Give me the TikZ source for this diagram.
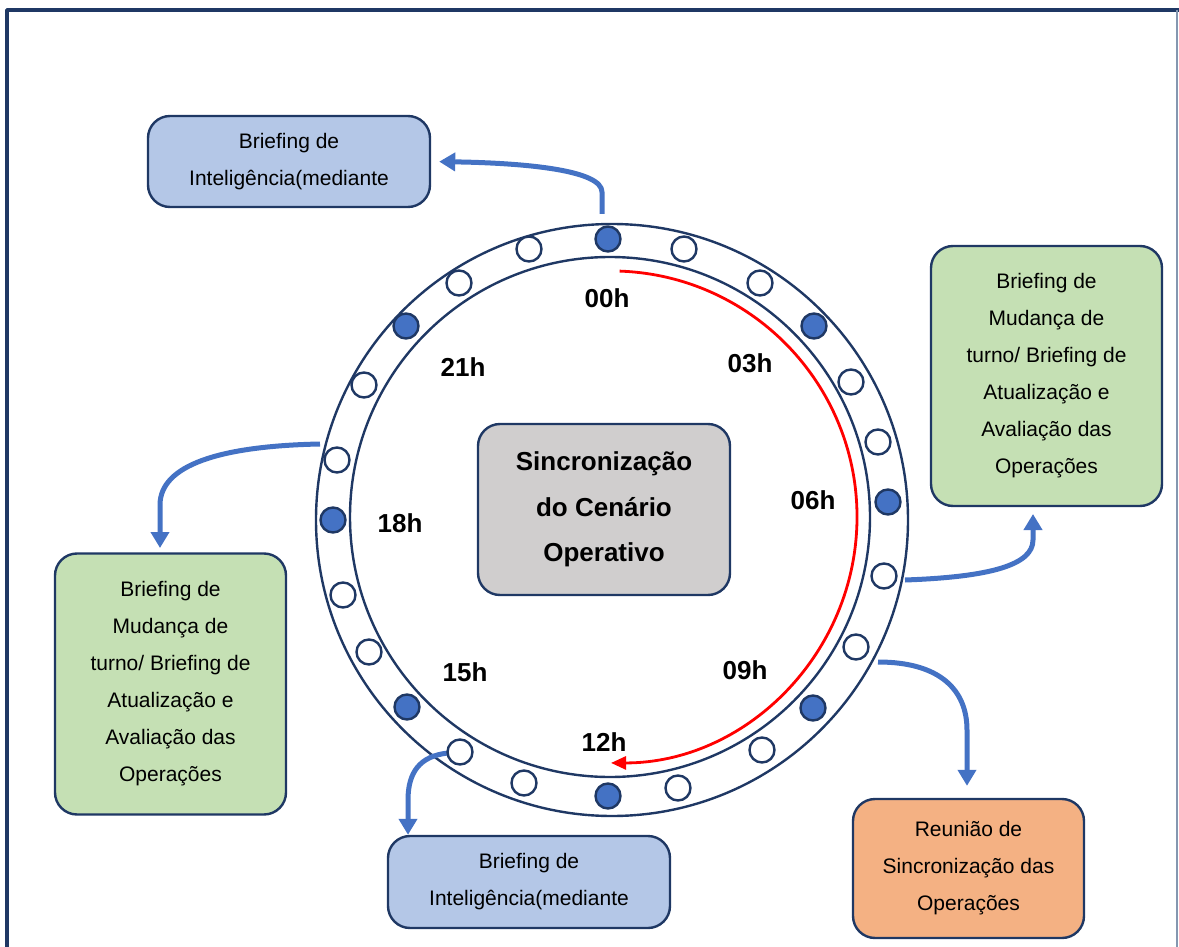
\documentclass[tikz,border=0pt]{standalone}
\usepackage{fontspec}
\setmainfont{Liberation Sans}
\usetikzlibrary{arrows.meta}
\usetikzlibrary{shapes}

\definecolor{navy}{HTML}{1F3864}
\definecolor{edgegray}{HTML}{8497B0}
\definecolor{flowblue}{HTML}{4472C4}
\definecolor{boxblue}{HTML}{B4C7E7}
\definecolor{boxgreen}{HTML}{C5E0B4}
\definecolor{boxorange}{HTML}{F4B183}
\definecolor{boxgray}{HTML}{D0CECE}

\begin{document}
\begin{tikzpicture}[x=0.5pt,y=-0.5pt,line join=bevel,
  box/.style={draw=navy,line width=1.2pt,rounded corners=11pt,align=center,inner sep=0pt,
    font=\fontsize{10.5}{18.5}\selectfont},
  hour/.style={font=\fontsize{13}{15}\bfseries\selectfont,inner sep=0pt},
  dot_full/.style={circle,draw=navy,fill=flowblue,line width=1.2pt,minimum size=12.5pt,inner sep=0pt},
  dot_open/.style={circle,draw=navy,fill=white,line width=1.2pt,minimum size=12.5pt,inner sep=0pt},
  flow/.style={draw=flowblue,line width=2.5pt,-{Triangle[width=9pt,length=8pt]}},
  timeline/.style={draw=red,line width=1.4pt,-{Triangle[width=6.5pt,length=7.5pt]}},
]
\useasboundingbox (0,0) rectangle (1179,947);
%%
\draw [navy,line width=2pt] (7,947) -- (7,10) -- (1179,10);
\draw [edgegray,line width=0.8pt] (1177,10) -- (1177,947);
%
\node (box_0) at (289,161.5) [box,fill=boxblue,minimum width=141pt,minimum height=45.5pt] {Briefing de\\Inteligência(mediante};
  \node (box_1) at (1046.5,376) [box,fill=boxgreen,minimum width=115.5pt,minimum height=130pt] {Briefing de\\Mudança de\\turno/ Briefing de\\Atualização e\\Avaliação das\\Operações};
  \node (box_2) at (170.5,684) [box,fill=boxgreen,minimum width=115.5pt,minimum height=130.5pt] {Briefing de\\Mudança de\\turno/ Briefing de\\Atualização e\\Avaliação das\\Operações};
  \node (box_3) at (529,882) [box,fill=boxblue,minimum width=141pt,minimum height=46pt] {Briefing de\\Inteligência(mediante};
  \node (box_4) at (968.5,868.5) [box,fill=boxorange,minimum width=115.5pt,minimum height=69.5pt] {Reunião de\\Sincronização das\\Operações};
  \node (box_c) at (604,509.5) [box,fill=boxgray,minimum width=126pt,minimum height=85.5pt,
    font=\fontsize{13}{22.75}\bfseries\selectfont] {Sincronização\\do Cenário\\Operativo};
%
\draw [navy,line width=1.2pt] (612,520) circle [radius=296];
\draw [navy,line width=1.2pt] (610,517) circle [radius=260];
%
\coordinate (src_0) at (602,214);
  \coordinate (src_1) at (320,444);
  \coordinate (src_2) at (905,580);
  \coordinate (src_3) at (878,662);
  \coordinate (src_4) at (448,753);
  \coordinate (red_0) at (619.6,271.1);
\draw [flow,shorten >=4pt] (src_0) -- (602,192) ..controls (602,170) and (525,163) .. (box_0.east);
  \draw [flow,shorten >=4pt] (src_1) ..controls (220,446) and (160,465) .. (160,505) -- (160,556);
  \draw [flow,shorten >=3pt] (src_2) ..controls (990,577) and (1033,565) .. (1033,540) -- (1033,508);
  \draw [flow,shorten >=6pt] (src_3) ..controls (940,662) and (967,690) .. (967,730) -- (box_4.north -| 967,730);
  \draw [flow] (src_4) ..controls (420,756) and (408,772) .. (408,800) -- (box_3.north -| 408,800);
\draw [timeline] (red_0) arc [start angle=-88,end angle=90,radius=246];
%
\node (dot_0) at (608,239) [dot_full] {};
  \node (dot_1) at (684,249) [dot_open] {};
  \node (dot_2) at (760,283) [dot_open] {};
  \node (dot_3) at (814,326) [dot_full] {};
  \node (dot_4) at (851,382) [dot_open] {};
  \node (dot_5) at (878,442) [dot_open] {};
  \node (dot_6) at (888,502) [dot_full] {};
  \node (dot_7) at (884,576) [dot_open] {};
  \node (dot_8) at (856,647) [dot_open] {};
  \node (dot_9) at (813,708) [dot_full] {};
  \node (dot_10) at (762,750) [dot_open] {};
  \node (dot_11) at (678,788) [dot_open] {};
  \node (dot_12) at (608,796) [dot_full] {};
  \node (dot_13) at (524,783) [dot_open] {};
  \node (dot_14) at (460,752) [dot_open] {};
  \node (dot_15) at (407,707) [dot_full] {};
  \node (dot_16) at (369,652) [dot_open] {};
  \node (dot_17) at (343,595) [dot_open] {};
  \node (dot_18) at (333,520) [dot_full] {};
  \node (dot_19) at (337,460) [dot_open] {};
  \node (dot_20) at (364,385) [dot_open] {};
  \node (dot_21) at (406,326) [dot_full] {};
  \node (dot_22) at (459,283) [dot_open] {};
  \node (dot_23) at (529,249) [dot_open] {};
%
\node (hour_00) at (607,298) [hour] {00h};
  \node (hour_03) at (750,363) [hour] {03h};
  \node (hour_06) at (813,500) [hour] {06h};
  \node (hour_09) at (745,670) [hour] {09h};
  \node (hour_12) at (604,742) [hour] {12h};
  \node (hour_15) at (465,672) [hour] {15h};
  \node (hour_18) at (400,523) [hour] {18h};
  \node (hour_21) at (463,367) [hour] {21h};
%
\end{tikzpicture}
\end{document}
